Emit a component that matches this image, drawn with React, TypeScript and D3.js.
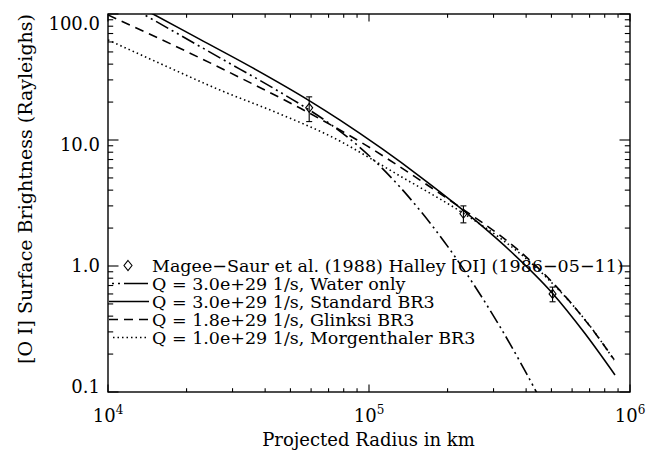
import React from "react";
import * as d3 from "d3";

// Projected radius (km) and [O I] surface brightness (Rayleighs) for each model
const waterOnlyR = [12140, 13620, 26860, 45600, 56850, 70900, 100900, 131500, 156800, 200800, 248000, 317600, 378800, 452000];
const waterOnlyB = [114.5, 100, 44.85, 24.0, 18.2, 13.42, 7.4, 4.23, 2.763, 1.418, 0.749, 0.33, 0.1743, 0.0883];

const standardR = [12140, 14870, 22520, 35000, 59400, 77440, 112100, 156800, 229200, 346900, 502500, 672300, 876000];
const standardB = [125.4, 100, 62.85, 38.38, 20.36, 14.38, 8.53, 5.13, 2.773, 1.322, 0.613, 0.2907, 0.1364];

const glinskiR = [10000, 14484, 22520, 35000, 54390, 98240, 156800, 229200, 317600, 378800, 502500, 702600, 868300];
const glinskiB = [98.2, 69.14, 44.77, 28.54, 17.92, 8.98, 4.805, 2.818, 1.75, 1.303, 0.748, 0.3317, 0.1815];

const morgenR = [10000, 15820, 26860, 45600, 70900, 131500, 229200, 317600, 414000, 502500, 589000, 702600, 868300];
const morgenB = [62.2, 40.5, 24.9, 16.08, 10.76, 5.18, 2.63, 1.668, 1.076, 0.733, 0.518, 0.334, 0.1795];

// Magee-Saur et al. (1988) observations
const obsR = [59000, 230000, 505000];
const obsB = [18.0, 2.6, 0.6];
const obsErr = [4.0, 0.4, 0.08];

const yTickValues = [0.1, 1, 10, 100];
const yTickLabels = ["0.1", "1.0", "10.0", "100.0"];
const xTickValues = [1e4, 1e5, 1e6];
const xTickExponents = ["4", "5", "6"];

const legendLabels = [
  "Magee\u2212Saur et al. (1988) Halley [OI] (1986\u221205\u221211)",
  "Q = 3.0e+29 1/s, Water only",
  "Q = 3.0e+29 1/s, Standard BR3",
  "Q = 1.8e+29 1/s, Glinksi BR3",
  "Q = 1.0e+29 1/s, Morgenthaler BR3",
];

const FONT = "'DejaVu Serif', serif";
const L = 108, R = 630, T = 14, B = 392;

const DASH_DOT = "14 4 2 4 2 4";
const DASHED = "9 6";
const DOTTED = "1.5 3";

export default function App() {
  const x = d3.scaleLog().domain([1e4, 1e6]).range([L, R]);
  const y = d3.scaleLog().domain([0.1, 100]).range([B, T]);
  // baseline positions for the y tick labels
  const yLab = d3.scaleLog().domain([0.1, 100]).range([B + 0.7, 30]);

  const line = d3
    .line<[number, number]>()
    .x((d) => x(d[0]))
    .y((d) => y(d[1]))
    .curve(d3.curveMonotoneX);

  const zip = (a: number[], b: number[]) => a.map((v, i) => [v, b[i]] as [number, number]);

  const models = [
    { d: line(zip(waterOnlyR, waterOnlyB)), dash: DASH_DOT },
    { d: line(zip(standardR, standardB)), dash: undefined },
    { d: line(zip(glinskiR, glinskiB)), dash: DASHED },
    { d: line(zip(morgenR, morgenB)), dash: DOTTED },
  ];

  const isMajor = (v: number) => Math.abs(Math.log10(v) - Math.round(Math.log10(v))) < 1e-6;
  const xTicks = x.ticks();
  const yTicks = y.ticks();

  const diamond = (cx: number, cy: number, hw = 4, hh = 5) =>
    `M${cx},${cy - hh}L${cx + hw},${cy}L${cx},${cy + hh}L${cx - hw},${cy}Z`;

  const legendRow0 = 265.5;
  const legendStep = 18;
  const sampleX0 = 109, sampleX1 = 149;

  return (
    <svg
      width={647}
      height={452}
      style={{ position: "absolute", left: 0, top: 0, display: "block" }}
      fontFamily={FONT}
    >
      <rect x={0} y={0} width={647} height={452} fill="#fff" />
      <defs>
        <clipPath id="plotArea">
          <rect x={L} y={T} width={R - L} height={B - T} />
        </clipPath>
      </defs>

      {/* model curves */}
      <g clipPath="url(#plotArea)" fill="none" stroke="#000" strokeWidth={1.6}>
        {models.map((m, i) => (
          <path key={i} d={m.d || ""} strokeDasharray={m.dash} />
        ))}
      </g>

      {/* observations with error bars */}
      <g stroke="#000" strokeWidth={1.1} fill="none">
        {obsR.map((r, i) => {
          const cx = x(r);
          const top = y(obsB[i] + obsErr[i]);
          const bot = y(obsB[i] - obsErr[i]);
          return (
            <g key={i}>
              <line x1={cx} x2={cx} y1={top} y2={bot} />
              <line x1={cx - 3} x2={cx + 3} y1={top} y2={top} />
              <line x1={cx - 3} x2={cx + 3} y1={bot} y2={bot} />
              <path d={diamond(cx, y(obsB[i]), 3.5, 4.5)} />
            </g>
          );
        })}
      </g>

      {/* frame */}
      <rect x={L} y={T} width={R - L} height={B - T} fill="none" stroke="#000" strokeWidth={1.4} />

      {/* ticks on all four sides */}
      <g stroke="#000" strokeWidth={1.1}>
        {xTicks.map((v, i) => {
          const len = isMajor(v) ? 7.6 : 3.8;
          const px = x(v);
          return (
            <g key={i}>
              <line x1={px} x2={px} y1={B} y2={B - len} />
              <line x1={px} x2={px} y1={T} y2={T + len} />
            </g>
          );
        })}
        {yTicks.map((v, i) => {
          const len = isMajor(v) ? 10.5 : 5.2;
          const py = y(v);
          return (
            <g key={i}>
              <line x1={L} x2={L + len} y1={py} y2={py} />
              <line x1={R} x2={R - len} y1={py} y2={py} />
            </g>
          );
        })}
      </g>

      {/* tick labels */}
      <g fontSize={18} fill="#000">
        {yTickValues.map((v, i) => (
          <text key={i} x={100} y={yLab(v)} textAnchor="end">
            {yTickLabels[i]}
          </text>
        ))}
        {xTickValues.map((v, i) => (
          <text key={i} x={x(v)} y={422} textAnchor="middle">
            10
            <tspan fontSize={12} dy={-8}>
              {xTickExponents[i]}
            </tspan>
          </text>
        ))}
      </g>

      {/* axis titles */}
      <text x={(L + R) / 2 - 0.5} y={446} textAnchor="middle" fontSize={18}>
        Projected Radius in km
      </text>
      <text transform={`translate(32,${189}) rotate(-90)`} textAnchor="middle" fontSize={19}>
        [O I] Surface Brightness (Rayleighs)
      </text>

      {/* legend */}
      <g fontSize={17.5} fill="#000">
        {legendLabels.map((t, i) => (
          <text key={i} x={152} y={legendRow0 + i * legendStep + 6}>
            {t}
          </text>
        ))}
      </g>
      <g stroke="#000" strokeWidth={1.6} fill="none">
        <path d={diamond(128, legendRow0, 4, 5)} strokeWidth={1.1} />
        <line
          x1={112}
          x2={sampleX1}
          y1={legendRow0 + legendStep}
          y2={legendRow0 + legendStep}
          strokeDasharray="2 4 2 4 24 100"
        />
        <line x1={sampleX0} x2={sampleX1} y1={legendRow0 + 2 * legendStep} y2={legendRow0 + 2 * legendStep} />
        <line
          x1={sampleX0}
          x2={sampleX1}
          y1={legendRow0 + 3 * legendStep}
          y2={legendRow0 + 3 * legendStep}
          strokeDasharray={DASHED}
        />
        <line
          x1={sampleX0 + 4}
          x2={sampleX1}
          y1={legendRow0 + 4 * legendStep}
          y2={legendRow0 + 4 * legendStep}
          strokeDasharray={DOTTED}
        />
      </g>
    </svg>
  );
}
